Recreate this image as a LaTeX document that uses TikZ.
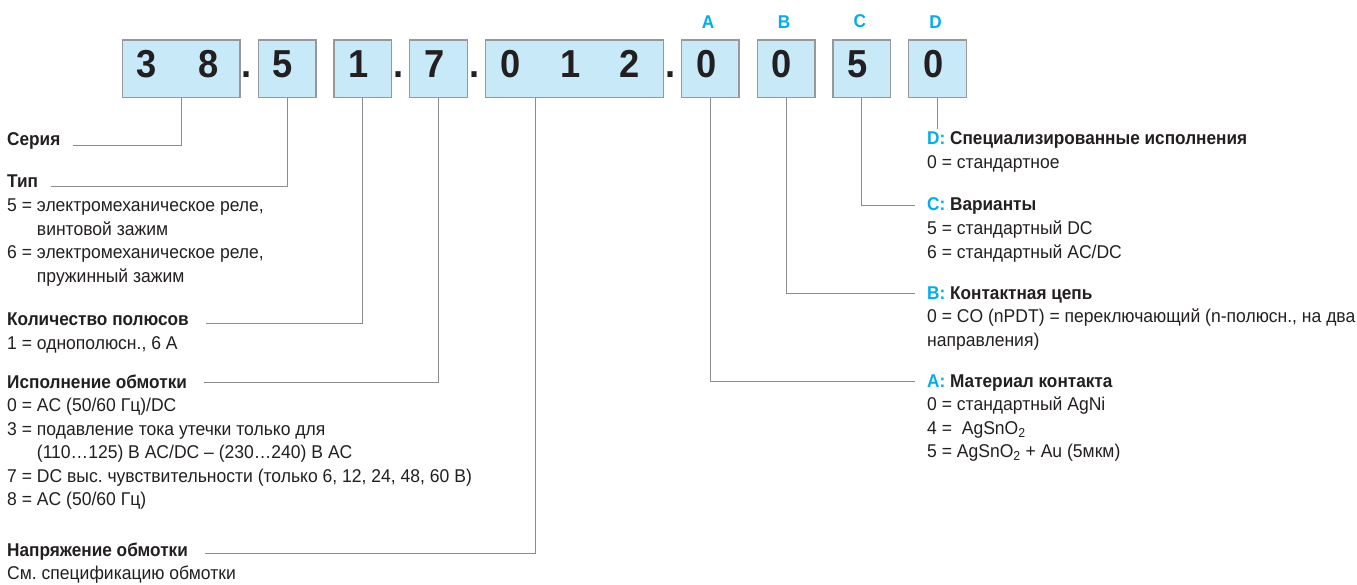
\documentclass[tikz,border=0pt]{standalone}
\usepackage{fontspec}
\setmainfont{Liberation Sans}[FakeStretch=0.93]
\newfontfamily\fliess{Liberation Sans}[FakeStretch=0.948]
\usetikzlibrary{positioning}
\definecolor{kasten}{RGB}{200,233,248}
\definecolor{rahmen}{RGB}{150,152,155}
\definecolor{leitung}{RGB}{140,140,140}
\definecolor{cyanbuchst}{RGB}{0,174,239}
\definecolor{schrift}{RGB}{35,31,32}
\newcommand{\kennb}[1]{\textcolor{cyanbuchst}{#1:}}
\frenchspacing

\begin{document}
\begin{tikzpicture}[x=1pt, y=-1pt, node distance=16.8pt,
    every node/.style={text=schrift},
    feld/.style={draw=rahmen, line width=1.3pt, fill=kasten, minimum height=57.7pt, minimum width=57.7pt,
      inner sep=0pt, text depth=9.3pt, execute at end node=\hspace{8pt},
      font=\fontsize{39}{40}\selectfont\bfseries},
    pkt/.style={inner sep=0pt, anchor=base west, font=\fontsize{39}{40}\selectfont\bfseries},
    buchst/.style={inner sep=0pt, text=cyanbuchst, font=\fontsize{18.5}{20}\selectfont\bfseries},
    kopf/.style={inner sep=0pt, anchor=base west, font=\fontsize{18.5}{23.5}\selectfont\bfseries},
    txt/.style={inner sep=0pt, align=left, font=\fliess\fontsize{18.5}{23.5}\selectfont},
    lead/.style={draw=leitung, line width=0.9pt}]
  \useasboundingbox (0,0) rectangle (1357,585);
  % code boxes
  \node[feld, minimum width=117.7pt] (b38) at (181.2,68.8) {3\hspace{41.8pt}8};
  \node[feld, right=of b38] (b5) {5};
  \node[feld, right=of b5] (b1) {1};
  \node[feld, right=of b1] (b7) {7};
  \node[feld, minimum width=177.7pt, right=of b7] (b012) {0\hspace{39.3pt}1\hspace{39.3pt}2\hspace{3pt}};
  \node[feld, right=of b012] (bA) {0};
  \node[feld, right=of bA] (bB) {0};
  \node[feld, right=of bB] (bC) {5};
  \node[feld, right=of bC] (bD) {0};
  \node[pkt] (p1) at ([xshift=1pt]b38.base east) {.};
  \node[pkt] (p2) at ([xshift=1pt]b1.base east) {.};
  \node[pkt] (p3) at ([xshift=1pt]b7.base east) {.};
  \node[pkt] (p4) at ([xshift=1pt]b012.base east) {.};
  \node[buchst, above=11pt of bA, xshift=-2pt] (lA) {A};
  \node[buchst, above=11pt of bB, xshift=-2pt] (lB) {B};
  \node[buchst, above=11pt of bC, xshift=-2pt] (lC) {C};
  \node[buchst, above=11pt of bD, xshift=-2pt] (lD) {D};

  % left column
  \node[kopf] (hSerie) at (7,146) {Серия};
  \node[kopf] (hTyp) at (7,188) {Тип};
  \node[txt, below=7.05pt of hTyp.base west, anchor=north west] (tTyp)
    {\strut 5 = электромеханическое реле,\\\phantom{5 = }винтовой зажим\\6 = электромеханическое реле,\\\phantom{6 = }пружинный зажим};
  \node[kopf] (hPole) at (7,326) {Количество полюсов};
  \node[txt, below=7.05pt of hPole.base west, anchor=north west] (tPole) {\strut 1 = однополюсн., 6 А};
  \node[kopf] (hWickl) at (7,388) {Исполнение обмотки};
  \node[txt, below=7.05pt of hWickl.base west, anchor=north west] (tWickl)
    {\strut 0 = AC (50/60 Гц)/DC\\3 = подавление тока утечки только для\\\phantom{3 = }(110…125) В AC/DC – (230…240) В AC\\7 = DC выс. чувствительности (только 6, 12, 24, 48, 60 В)\\8 = AC (50/60 Гц)};
  \node[kopf] (hSpann) at (7,556) {Напряжение обмотки};
  \node[txt, below=7.05pt of hSpann.base west, anchor=north west] (tSpann) {\strut См. спецификацию обмотки};

  % right column
  \node[kopf] (hD) at (927,145) {\kennb{D} Специализированные исполнения};
  \node[txt, below=7.05pt of hD.base west, anchor=north west] (tD) {\strut 0 = стандартное};
  \node[kopf] (hC) at (927,211) {\kennb{C} Варианты};
  \node[txt, below=7.05pt of hC.base west, anchor=north west] (tC) {\strut 5 = стандартный DC\\6 = стандартный AC/DC};
  \node[kopf] (hB) at (927,299) {\kennb{B} Контактная цепь};
  \node[txt, below=7.05pt of hB.base west, anchor=north west] (tB) {\strut 0 = CO (nPDT) = переключающий (n-полюсн., на два\\направления)};
  \node[kopf] (hA) at (927,387) {\kennb{A} Материал контакта};
  \node[txt, below=7.05pt of hA.base west, anchor=north west] (tA)
    {\strut 0 = стандартный AgNi\\4 = \ AgSnO\textsubscript{2}\\5 = AgSnO\textsubscript{2} + Au (5мкм)};

  % leader lines
  \draw[lead] (b38.south) |- ([xshift=12pt, yshift=1pt]hSerie.base east);
  \draw[lead] (b5.south) |- ([xshift=13pt, yshift=2pt]hTyp.base east);
  \draw[lead] (b1.south) |- ([xshift=17pt, yshift=3pt]hPole.base east);
  \draw[lead] (b7.south) |- ([xshift=17pt, yshift=6pt]hWickl.base east);
  \draw[lead] ([xshift=-39pt]b012.south) |- ([xshift=17pt, yshift=3pt]hSpann.base east);
  \draw[lead] (bA.south) |- ([xshift=-12pt, yshift=3pt]hA.mid west);
  \draw[lead] (bB.south) |- ([xshift=-12pt, yshift=3pt]hB.mid west);
  \draw[lead] (bC.south) |- ([xshift=-12pt, yshift=3pt]hC.mid west);
  \draw[lead] (bD.south) -- ([yshift=3pt]bD.south |- hD.north);
\end{tikzpicture}
\end{document}
